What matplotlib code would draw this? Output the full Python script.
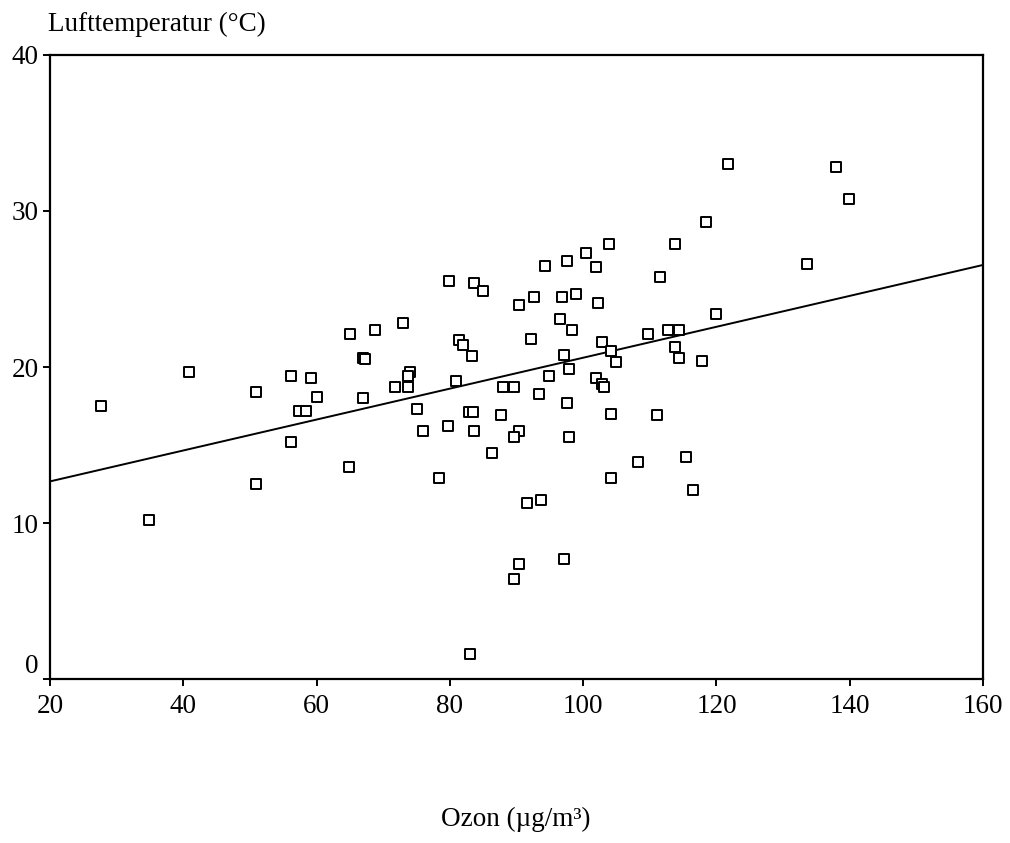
import numpy as np
import matplotlib.pyplot as plt

# ozone concentration (µg/m³) and air temperature (°C)
ozone = [
    27.7, 34.9, 40.9, 50.9, 50.9, 56.1, 59.1, 60.1, 57.4, 58.4,
    56.1, 64.8, 65.0, 67.0, 67.2, 67.0, 68.7, 73.0, 74.0, 73.7,
    71.7, 73.7, 75.0, 76.0, 79.7, 78.3, 79.9, 83.6, 84.9, 81.3,
    81.9, 83.3, 80.9, 82.9, 83.5, 83.6, 86.3, 87.6, 87.9, 89.6,
    90.3, 92.6, 92.2, 93.3, 90.3, 89.6, 94.3, 97.6, 100.5, 103.9,
    101.9, 96.9, 98.9, 102.2, 96.5, 98.3, 97.2, 97.9, 94.9, 97.6,
    97.9, 102.8, 104.2, 104.9, 101.9, 102.9, 103.2, 104.2, 108.2, 109.8,
    104.2, 121.8, 138.0, 139.9, 118.4, 113.8, 111.5, 133.6, 120.0, 112.8,
    114.4, 113.8, 114.4, 117.8, 111.1, 115.4, 116.5, 91.5, 93.6, 90.3,
    89.6, 97.2, 83.0,
]
temp = [
    17.5, 10.2, 19.7, 18.4, 12.5, 19.4, 19.3, 18.1, 17.2, 17.2,
    15.2, 13.6, 22.1, 20.6, 20.5, 18.0, 22.4, 22.8, 19.7, 19.4,
    18.7, 18.7, 17.3, 15.9, 16.2, 12.9, 25.5, 25.4, 24.9, 21.7,
    21.4, 20.7, 19.1, 17.1, 17.1, 15.9, 14.5, 16.9, 18.7, 18.7,
    24.0, 24.5, 21.8, 18.3, 15.9, 15.5, 26.5, 26.8, 27.3, 27.9,
    26.4, 24.5, 24.7, 24.1, 23.1, 22.4, 20.8, 19.9, 19.4, 17.7,
    15.5, 21.6, 21.0, 20.3, 19.3, 18.9, 18.7, 17.0, 13.9, 22.1,
    12.9, 33.0, 32.8, 30.8, 29.3, 27.9, 25.8, 26.6, 23.4, 22.4,
    22.4, 21.3, 20.6, 20.4, 16.9, 14.2, 12.1, 11.3, 11.5, 7.4,
    6.4, 7.7, 1.6,
]

x_ticks = [20, 40, 60, 80, 100, 120, 140, 160]
y_ticks = [0, 10, 20, 30, 40]

plt.rcParams['font.family'] = ['Liberation Serif', 'DejaVu Serif']

fig = plt.figure(figsize=(10.1, 8.43), dpi=100)
ax = fig.add_axes([0.0495, 0.1945, 0.9238, 0.7403])

ax.scatter(ozone, temp, marker='s', s=42, facecolors='white',
           edgecolors='black', linewidths=1.4, zorder=3)

# linear regression line over the full x range
slope, intercept = np.polyfit(ozone, temp, 1)
xs = np.array([20, 160])
ax.plot(xs, intercept + slope * xs, color='black', lw=1.4, zorder=2)

ax.set_xlim(20, 160)
ax.set_ylim(0, 40)
ax.set_xticks(x_ticks)
ax.set_yticks(y_ticks)
ax.tick_params(direction='out', length=5, width=1.4, labelsize=19.5)
ax.tick_params(axis='x', pad=6)
ax.tick_params(axis='y', pad=3)
for s in ax.spines.values():
    s.set_linewidth(1.6)

# the "0" label sits above its tick in the original
ax.get_yticklabels()[0].set_verticalalignment('bottom')

fig.text(48 / 1010, 1 - 24 / 843, 'Lufttemperatur (°C)', fontsize=19.5,
         ha='left', va='center')
fig.text(516 / 1010, 1 - 819 / 843, 'Ozon (µg/m³)', fontsize=19.5,
         ha='center', va='center')

fig.savefig('out.png', dpi=100)
